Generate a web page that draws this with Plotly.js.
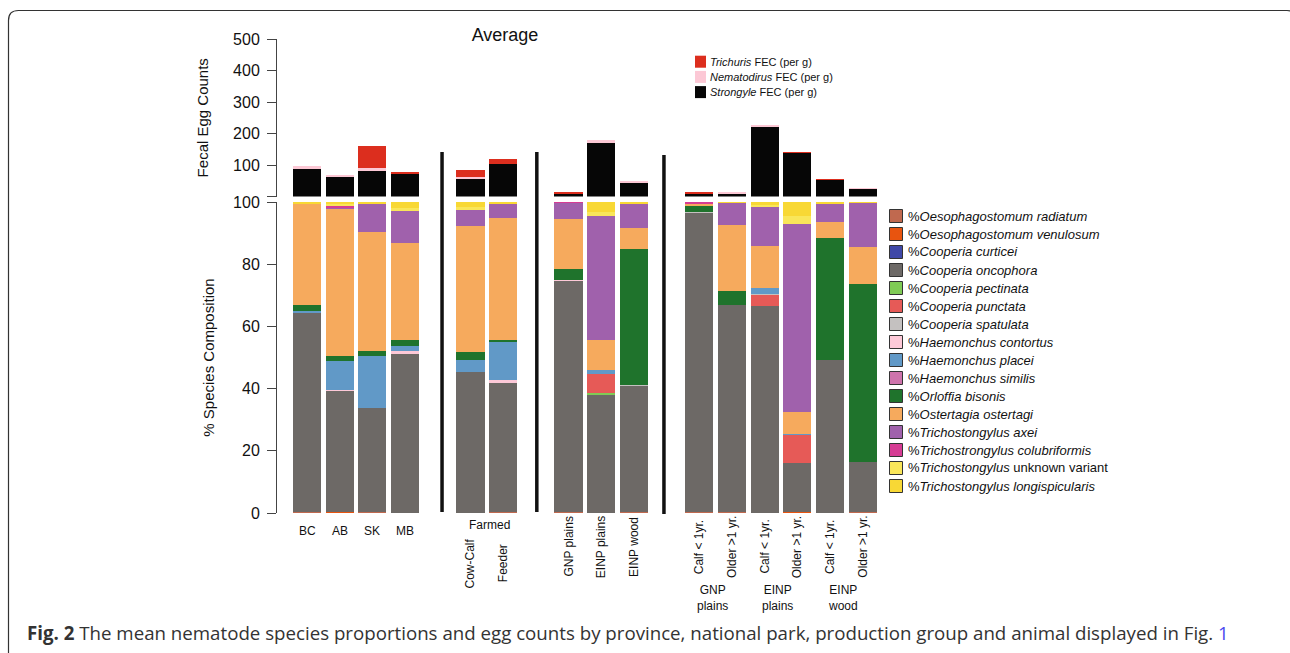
<!DOCTYPE html>
<html><head><meta charset="utf-8">
<script src="https://cdn.plot.ly/plotly-3.0.1.min.js"></script>
<style>html,body{margin:0;padding:0;background:#fff;} #chart{width:1290px;height:653px;}</style>
</head><body><div id="chart"></div>
<script>
// ---------- data ----------
const groups = [
  ['BC','AB','SK','MB'],
  ['Cow-Calf','Feeder'],
  ['GNP plains','EINP plains','EINP wood'],
  ['Calf < 1yr.','Older >1 yr.','Calf < 1yr.','Older >1 yr.','Calf < 1yr.','Older >1 yr.']
];
const farmedLabel = 'Farmed';
const parkLabels = ['GNP<br>plains','EINP<br>plains','EINP<br>wood'];

// Fecal egg counts (per g)
const strongyle   = [87, 63, 84, 72, 56, 104, 11, 173, 46, 10, 11, 221, 139, 53, 24];
const nematodirus = [9, 5, 6, 0, 6, 0, 0, 6, 3, 0, 3, 6, 0, 0, 3];
const trichuris   = [0, 0, 69, 4, 22, 16, 3, 0, 0, 3, 0, 0, 2, 2, 0];

// % species composition
const oesRadiatum   = [0.3,0,0.3,0,0,0.3,0.3,0,0.3,0.3,0.3,0,0,0,0.3];
const oesVenulosum  = [0,0.4,0,0,0,0,0,0,0,0,0,0,0.3,0,0];
const coopCurticei  = [0,0,0,0,0,0,0,0,0,0,0,0,0,0,0];
const coopOncophora = [64.2,39.0,33.6,51.1,45.3,41.8,74.3,38.2,40.8,96.2,66.6,66.7,15.8,49.2,16.1];
const coopPectinata = [0,0,0,0,0,0,0,0.3,0,0,0,0,0,0,0];
const coopPunctata  = [0,0,0,0,0,0,0,6.2,0,0,0,3.4,9.0,0,0];
const coopSpatulata = [0,0,0,0,0,0,0,0,0.2,0.3,0,0.3,0,0,0];
const haemContortus = [0,0.3,0,1.0,0,0.6,0.3,0,0,0,0,0,0,0,0];
const haemPlacei    = [0.3,9.3,16.6,1.6,3.9,12.6,0,1.3,0,0,0,1.9,0.4,0,0];
const haemSimilis   = [0,0,0,0,0,0,0,0,0,0,0,0,0,0,0];
const orlBisonis    = [2.0,1.6,1.6,1.9,2.6,0.4,3.6,0,43.5,1.9,4.5,0,0,39.2,57.2];
const ostOstertagi  = [32.8,47.2,38.3,31.2,40.5,39.2,16.0,9.6,7.0,0.8,21.2,13.6,7.0,5.2,11.9];
const triAxei       = [0,0.5,9.0,10.4,5.4,4.5,5.2,39.9,7.8,0,7.1,12.5,60.4,5.8,14.2];
const triColub      = [0,0.5,0,0,0,0,0.3,0,0,0.5,0,0,0,0,0];
const triUnknown    = [0,0.4,0,0.8,0.6,0,0,1.3,0,0,0,0.6,2.6,0,0];
const triLongisp    = [0.4,0.8,0.6,2.0,1.7,0.6,0,3.2,0.4,0,0.3,1.0,4.5,0.6,0.3];

const speciesNames = [
  '%<i>Oesophagostomum radiatum</i>','%<i>Oesophagostomum venulosum</i>','%<i>Cooperia curticei</i>',
  '%<i>Cooperia oncophora</i>','%<i>Cooperia pectinata</i>','%<i>Cooperia punctata</i>',
  '%<i>Cooperia spatulata</i>','%<i>Haemonchus contortus</i>','%<i>Haemonchus placei</i>',
  '%<i>Haemonchus similis</i>','%<i>Orloffia bisonis</i>','%<i>Ostertagia ostertagi</i>',
  '%<i>Trichostongylus axei</i>','%<i>Trichostrongylus colubriformis</i>',
  '%<i>Trichostongylus</i> unknown variant','%<i>Trichostongylus longispicularis</i>'
];
const speciesValues = [oesRadiatum,oesVenulosum,coopCurticei,coopOncophora,coopPectinata,coopPunctata,
  coopSpatulata,haemContortus,haemPlacei,haemSimilis,orlBisonis,ostOstertagi,triAxei,triColub,triUnknown,triLongisp];
const speciesColors = ['#C0694F','#E8540F','#3F48A8','#6D6966','#7FCB55','#E65A57','#C4C1C0','#FDC9D8',
  '#6199C7','#CE73AC','#1F732C','#F6AA5D','#A061AC','#D63C94','#F9E65A','#F8D835'];

const fecNames  = ['<i>Strongyle</i> FEC (per g)','<i>Nematodirus</i> FEC (per g)','<i>Trichuris</i> FEC (per g)'];
const fecValues = [strongyle, nematodirus, trichuris];
const fecColors = ['#060606','#FCC8D5','#DC2E1E'];

// ---------- positions from group structure ----------
const xs = [], labels = [], groupOf = [];
let pos = 0;
groups.forEach((g, gi) => {
  if (gi > 0) pos += 1;
  g.forEach(l => { xs.push(pos); labels.push(l); groupOf.push(gi); pos++; });
});

// pixel helpers (plot area: x 277..879, y 39..513)
const L = 277, R = 411, T = 39, B = 140, W = 1290, H = 653;
const PW = W - L - R, PH = H - T - B;
const px = v => (v - L) / PW;
const py = v => (H - B - v) / PH;

const FONT = 'Liberation Sans';
const BW = 0.86;
const traces = [];

fecValues.forEach((vals, i) => {
  traces.push({type:'bar', x: xs, y: vals, name: fecNames[i], width: BW,
    marker:{color: fecColors[i], line:{width:0}}, xaxis:'x', yaxis:'y2', hoverinfo:'y+name'});
});
speciesValues.forEach((vals, i) => {
  traces.push({type:'bar', x: xs, y: vals, name: speciesNames[i], width: BW,
    marker:{color: speciesColors[i], line:{width:0}}, xaxis:'x', yaxis:'y', hoverinfo:'y+name'});
});

// ---------- annotations ----------
const ann = [];
const shapes = [];
xs.forEach((x, i) => {
  const g = groupOf[i];
  if (g === 0) {
    ann.push({x, y: py(531), xref:'x', yref:'paper', text: labels[i], showarrow:false,
      xanchor:'center', yanchor:'middle', font:{family:FONT, size:12, color:'#111'}});
  } else {
    ann.push({x, y: py(g === 1 ? 563 : 547), xref:'x', yref:'paper', text: labels[i], showarrow:false,
      textangle:-90, xanchor:'center', yanchor:'middle', font:{family:FONT, size:12, color:'#111'}});
  }
});
const farmedX = xs.filter((x, i) => groupOf[i] === 1);
ann.push({x: (farmedX[0] + farmedX[1]) / 2 + 0.08, y: py(525), xref:'x', yref:'paper', text: farmedLabel,
  showarrow:false, xanchor:'center', yanchor:'middle', font:{family:FONT, size:12, color:'#111'}});
const animalX = xs.filter((x, i) => groupOf[i] === 3);
parkLabels.forEach((t, k) => {
  ann.push({x: (animalX[2*k] + animalX[2*k+1]) / 2 - 0.1, y: py(598), xref:'x', yref:'paper', text: t,
    showarrow:false, xanchor:'center', yanchor:'middle', font:{family:FONT, size:12, color:'#111'}});
});
// caption
ann.push({x: px(25), y: py(632), xref:'paper', yref:'paper', xanchor:'left', yanchor:'middle', showarrow:false,
  text: '<b>Fig. 2</b> The mean nematode species proportions and egg counts by province, national park, production group and animal displayed in Fig. <span style="color:#4a4af0">1</span>',
  font:{family:'Open Sans', size:18.7, color:'#333'}});

// ---------- legends (swatch + label) ----------
// egg-count legend: top to bottom Trichuris, Nematodirus, Strongyle
[2, 1, 0].forEach((k, row) => {
  const cy = 61.7 + row * 15.2;
  shapes.push({type:'rect', xref:'paper', yref:'paper', x0: px(695), x1: px(706), y0: py(cy + 6), y1: py(cy - 6),
    fillcolor: fecColors[k], line:{width:0}});
  ann.push({x: px(708), y: py(cy), xref:'paper', yref:'paper', xanchor:'left', yanchor:'middle', showarrow:false,
    text: fecNames[k], font:{family:FONT, size:11, color:'#111'}});
});
// species legend
speciesNames.forEach((name, k) => {
  const cy = 216 + k * 18.0;
  shapes.push({type:'rect', xref:'paper', yref:'paper', x0: px(889.5), x1: px(902.5), y0: py(cy + 6.5), y1: py(cy - 6.5),
    fillcolor: speciesColors[k], line:{color:'#333', width:1}});
  ann.push({x: px(905.5), y: py(cy), xref:'paper', yref:'paper', xanchor:'left', yanchor:'middle', showarrow:false,
    text: name, font:{family:FONT, size:13, color:'#111'}});
});

// ---------- separators & frame ----------
[[4.13,152,512],[7.03,152,512],[10.92,155,514]].forEach(s => {
  shapes.push({type:'line', xref:'x', yref:'paper', x0:s[0], x1:s[0], y0:py(s[1]), y1:py(s[2]),
    line:{color:'#111', width:3.5}});
});
const fx0 = px(8.5), fx1 = px(1297), fy1 = py(10.5), fy0 = py(700), rx = 10/PW, ry = 10/PH;
shapes.push({type:'path', xref:'paper', yref:'paper', line:{color:'#333', width:1.2},
  path:`M${fx1},${fy0} L${fx1},${fy1-ry} Q${fx1},${fy1} ${fx1-rx},${fy1} L${fx0+rx},${fy1} Q${fx0},${fy1} ${fx0},${fy1-ry} L${fx0},${fy0}`});

const axisCommon = {showgrid:false, zeroline:false, showline:true, linecolor:'#444', linewidth:1,
  ticks:'outside', ticklen:9, tickcolor:'#444', tickwidth:1, ticklabelstandoff:4,
  tickfont:{family:FONT, size:16, color:'#111'}, fixedrange:true};

const layout = {
  width: W, height: H, margin:{l:L, r:R, t:T, b:B}, paper_bgcolor:'#fff', plot_bgcolor:'#fff',
  font:{family:FONT, color:'#111'},
  barmode:'stack', bargap:0, showlegend:false,
  title:{text:'Average', x: 505/W, xref:'container', xanchor:'center', y: 1 - 35/H, yref:'container', yanchor:'middle',
    font:{family:FONT, size:18, color:'#111'}},
  xaxis:{range:[-0.92, 17.5], showline:false, showgrid:false, zeroline:false, showticklabels:false, ticks:'', fixedrange:true, anchor:'y'},
  yaxis: Object.assign({}, axisCommon, {domain:[0, py(202)], range:[0, 100], tickvals:[0,20,40,60,80,100],
    title:{text:'% Species Composition', standoff:14, font:{family:FONT, size:15, color:'#111'}}}),
  yaxis2: Object.assign({}, axisCommon, {domain:[py(196.5), 1], range:[0, 500], anchor:'x',
    tickvals:[0,100,200,300,400,500], ticktext:['','100','200','300','400','500'],
    title:{text:'Fecal Egg Counts', standoff:20, font:{family:FONT, size:15, color:'#111'}}}),
  annotations: ann, shapes: shapes
};

Plotly.newPlot('chart', traces, layout, {displayModeBar:false, responsive:false});
</script>
</body></html>
